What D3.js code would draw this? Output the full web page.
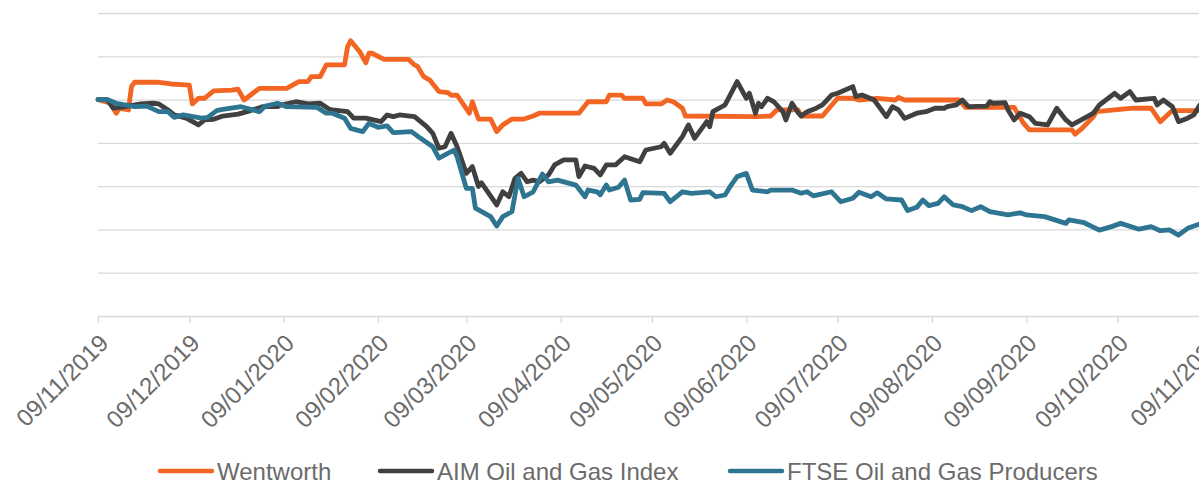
<!DOCTYPE html>
<meta charset="utf-8">
<head>
    <title>Wentworth vs indices</title>
    <script src="https://cdn.jsdelivr.net/npm/d3@7"></script>
</head>

<style>
    body { margin: 0; background: #fff; }
    svg { display: block; font-family: Arial, "Liberation Sans", sans-serif; }
    .grid line { stroke: #d9d9d9; stroke-width: 1.3; }
    .grid .domain { display: none; }
    .xaxis path, .xaxis line { stroke: #d9d9d9; stroke-width: 1.3; }
    .xaxis text { fill: #6b6b6b; font-size: 24px; }
    .legend text { fill: #6b6b6b; font-size: 24px; }
    .series { fill: none; stroke-width: 4.8; stroke-linejoin: round; stroke-linecap: round; }
</style>

<svg></svg>

<script>
    // chart data (index, start = 100)
    var seriesNames = ["Wentworth", "AIM Oil and Gas Index", "FTSE Oil and Gas Producers"];
    var seriesColors = ["#f26522", "#404040", "#2e7592"];

    var tickDates = ["2019-11-09", "2019-12-09", "2020-01-09", "2020-02-09", "2020-03-09", "2020-04-09",
        "2020-05-09", "2020-06-09", "2020-07-09", "2020-08-09", "2020-09-09", "2020-10-09", "2020-11-09"];

    var wentworth = [["2019-11-09",100],["2019-11-13",98.5],["2019-11-15",93.7],["2019-11-16",96],["2019-11-19",95.2],["2019-11-20",106],["2019-11-21",108],["2019-11-29",108],["2019-12-03",107.2],["2019-12-09",106.7],["2019-12-10",98],["2019-12-12",100.6],["2019-12-14",100.6],["2019-12-17",104],["2019-12-23",104.4],["2019-12-25",104.8],["2019-12-27",99.8],["2020-01-01",105.2],["2020-01-10",105.2],["2020-01-14",108.3],["2020-01-17",108.3],["2020-01-18",110.6],["2020-01-21",110.6],["2020-01-23",116],["2020-01-29",116],["2020-01-30",124.4],["2020-01-31",127.2],["2020-02-03",122.1],["2020-02-05",117],["2020-02-06",121.4],["2020-02-07",121.4],["2020-02-11",118.6],["2020-02-19",118.6],["2020-02-21",116],["2020-02-22",115.3],["2020-02-24",110.6],["2020-02-26",109],["2020-02-29",103.7],["2020-03-03",103.2],["2020-03-04",102],["2020-03-06",102],["2020-03-10",93.7],["2020-03-11",99],["2020-03-13",91],["2020-03-17",91],["2020-03-19",85.2],["2020-03-21",88.3],["2020-03-24",91],["2020-03-28",91],["2020-03-31",92.4],["2020-04-02",93.7],["2020-04-15",93.7],["2020-04-18",99],["2020-04-24",99],["2020-04-25",102.1],["2020-04-29",102.1],["2020-04-30",100.6],["2020-05-06",100.6],["2020-05-07",98],["2020-05-12",98],["2020-05-14",99.8],["2020-05-16",99],["2020-05-19",96],["2020-05-20",92.4],["2020-06-12",92.1],["2020-06-17",92.4],["2020-06-19",95.2],["2020-06-26",95.2],["2020-06-27",92.4],["2020-07-04",92.4],["2020-07-09",100.6],["2020-07-14",100.6],["2020-07-16",99.8],["2020-07-22",100.6],["2020-07-28",99.8],["2020-07-29",101],["2020-07-31",99.8],["2020-08-18",99.8],["2020-08-20",96.4],["2020-09-05",96.4],["2020-09-08",89.2],["2020-09-10",86],["2020-09-24",86],["2020-09-25",84],["2020-09-27",86.3],["2020-10-01",92],["2020-10-02",94.4],["2020-10-14",96],["2020-10-20",96],["2020-10-23",89.8],["2020-10-26",93.7],["2020-10-27",94.9],["2020-11-08",94.9]];

    var aimOilGas = [["2019-11-09",100],["2019-11-12",100],["2019-11-14",96],["2019-11-18",96.7],["2019-11-23",98],["2019-11-27",98.3],["2019-11-29",98],["2019-12-02",95.2],["2019-12-04",92.9],["2019-12-08",91.4],["2019-12-12",88.3],["2019-12-14",90.6],["2019-12-17",90.9],["2019-12-20",92.4],["2019-12-25",93.3],["2019-12-28",94.4],["2020-01-02",96.7],["2020-01-07",96.7],["2020-01-08",97.5],["2020-01-13",99],["2020-01-17",98],["2020-01-21",98.3],["2020-01-24",95.5],["2020-01-25",95.2],["2020-01-30",94.4],["2020-02-01",91.4],["2020-02-05",91.4],["2020-02-10",89.8],["2020-02-12",92.9],["2020-02-14",92.1],["2020-02-16",92.9],["2020-02-21",92.1],["2020-02-25",87.5],["2020-02-27",84.4],["2020-02-29",77.5],["2020-03-02",78.2],["2020-03-04",84.4],["2020-03-06",78.2],["2020-03-09",65.9],["2020-03-11",69],["2020-03-13",59.8],["2020-03-14",61.5],["2020-03-19",51.3],["2020-03-21",57.4],["2020-03-23",55.1],["2020-03-25",63.6],["2020-03-27",65.9],["2020-03-29",62],["2020-03-31",62.8],["2020-04-02",62],["2020-04-05",65.2],["2020-04-07",69.8],["2020-04-10",72.1],["2020-04-14",72.1],["2020-04-15",64.4],["2020-04-17",69.3],["2020-04-20",68.2],["2020-04-22",65.2],["2020-04-24",69.8],["2020-04-27",69.8],["2020-04-30",73.6],["2020-05-05",71.3],["2020-05-07",76.7],["2020-05-12",78.2],["2020-05-13",79.8],["2020-05-15",75.2],["2020-05-19",82.9],["2020-05-21",88.3],["2020-05-23",82.1],["2020-05-27",89.8],["2020-05-28",87.5],["2020-05-29",94.4],["2020-06-02",97.5],["2020-06-06",108.3],["2020-06-09",100.6],["2020-06-10",102.9],["2020-06-12",93.7],["2020-06-13",98.3],["2020-06-14",96.7],["2020-06-16",100.6],["2020-06-18",99.1],["2020-06-21",94.4],["2020-06-22",90.6],["2020-06-24",98.3],["2020-06-26",94],["2020-06-27",92.4],["2020-06-29",94.4],["2020-07-02",96],["2020-07-04",97.5],["2020-07-07",102.1],["2020-07-09",102.9],["2020-07-14",106],["2020-07-15",101.4],["2020-07-17",102.1],["2020-07-21",99.8],["2020-07-25",92.1],["2020-07-27",96.7],["2020-07-29",95.2],["2020-07-31",91.3],["2020-08-04",93.7],["2020-08-07",94.4],["2020-08-10",96],["2020-08-13",96],["2020-08-14",96.7],["2020-08-17",97.5],["2020-08-19",99.8],["2020-08-21",96.7],["2020-08-27",97],["2020-08-28",99],["2020-08-29",98.3],["2020-09-02",98.6],["2020-09-03",95.2],["2020-09-05",90.6],["2020-09-07",93.7],["2020-09-10",92.1],["2020-09-12",89],["2020-09-16",88.3],["2020-09-19",96],["2020-09-22",90.6],["2020-09-24",88.3],["2020-09-29",92.1],["2020-10-01",93.7],["2020-10-03",97.5],["2020-10-08",102.9],["2020-10-10",100.6],["2020-10-13",103.7],["2020-10-15",99.8],["2020-10-21",100.6],["2020-10-22",97.5],["2020-10-24",99.8],["2020-10-27",96.7],["2020-10-29",89.8],["2020-11-01",91.4],["2020-11-03",92.9],["2020-11-05",97.5],["2020-11-08",99]];

    var ftseOilGas = [["2019-11-09",100],["2019-11-12",100],["2019-11-15",98.3],["2019-11-21",96.7],["2019-11-25",97],["2019-11-29",94.4],["2019-12-02",94.4],["2019-12-04",91.8],["2019-12-07",92.9],["2019-12-13",91.4],["2019-12-15",91.8],["2019-12-18",94.9],["2019-12-20",95.5],["2019-12-26",96.7],["2020-01-01",94.4],["2020-01-03",97],["2020-01-07",98.3],["2020-01-10",96.7],["2020-01-20",96.4],["2020-01-23",93.7],["2020-01-25",93.7],["2020-01-29",91.4],["2020-01-31",86.7],["2020-02-04",85.2],["2020-02-06",89],["2020-02-09",87.2],["2020-02-12",87.8],["2020-02-14",84.7],["2020-02-20",85.2],["2020-02-23",82.1],["2020-02-27",78.2],["2020-02-29",72.9],["2020-03-05",76.7],["2020-03-06",73.6],["2020-03-09",59],["2020-03-11",59],["2020-03-12",49.8],["2020-03-17",45.9],["2020-03-19",41.6],["2020-03-21",45.9],["2020-03-24",48.2],["2020-03-26",63.6],["2020-03-28",55.1],["2020-03-31",57.4],["2020-04-03",65.6],["2020-04-05",62],["2020-04-08",62.8],["2020-04-14",60.5],["2020-04-17",55.1],["2020-04-18",58.2],["2020-04-21",57.4],["2020-04-22",56],["2020-04-24",60.5],["2020-04-25",58.2],["2020-04-28",59.5],["2020-04-30",62.8],["2020-05-02",53.6],["2020-05-05",53.9],["2020-05-06",57],["2020-05-13",56.7],["2020-05-15",52.8],["2020-05-19",57.4],["2020-05-22",56.7],["2020-05-28",57.4],["2020-05-30",55.1],["2020-06-02",55.9],["2020-06-04",60.5],["2020-06-06",64.4],["2020-06-09",65.9],["2020-06-11",58.2],["2020-06-16",57.4],["2020-06-17",58.2],["2020-06-24",58.2],["2020-06-27",56.7],["2020-06-29",57.4],["2020-07-01",55.5],["2020-07-07",57.4],["2020-07-10",52.8],["2020-07-14",54.4],["2020-07-16",57.2],["2020-07-20",55.1],["2020-07-22",56.9],["2020-07-25",54.1],["2020-07-30",53.6],["2020-08-01",48.7],["2020-08-04",50.2],["2020-08-06",53.6],["2020-08-08",51],["2020-08-11",52],["2020-08-13",55.1],["2020-08-16",51.3],["2020-08-19",50.5],["2020-08-22",48.7],["2020-08-25",50.5],["2020-08-28",48.2],["2020-09-03",46.7],["2020-09-07",47.7],["2020-09-09",46.7],["2020-09-15",45.9],["2020-09-22",42.8],["2020-09-23",44.4],["2020-09-28",43.1],["2020-10-03",39.7],["2020-10-07",41.3],["2020-10-10",42.8],["2020-10-16",40.1],["2020-10-20",41.3],["2020-10-23",39.4],["2020-10-26",39.8],["2020-10-29",37.4],["2020-11-01",40.5],["2020-11-05",42.5],["2020-11-08",44]];

    // sizes
    var vWidth = 1199;
    var vHeight = 482;
    var plotLeft = 98, plotRight = 1212, plotTop = 13, plotBottom = 316;

    var parse = d3.timeParse("%Y-%m-%d");
    var fmt = d3.timeFormat("%d/%m/%Y");

    var svg = d3.select('svg')
        .attr('width', vWidth)
        .attr('height', vHeight);

    var x = d3.scaleTime()
        .domain([parse(tickDates[0]), parse(tickDates[tickDates.length - 1])])
        .range([plotLeft, plotRight]);

    var y = d3.scaleLinear()
        .domain([0, 140])
        .range([plotBottom, plotTop]);

    // horizontal gridlines
    svg.append('g')
        .attr('class', 'grid')
        .attr('transform', 'translate(' + plotLeft + ',0)')
        .call(d3.axisLeft(y).tickValues(d3.range(20, 141, 20)).tickSize(-(plotRight - plotLeft)).tickFormat(''));

    // x axis
    var xAxis = svg.append('g')
        .attr('class', 'xaxis')
        .attr('transform', 'translate(0,' + plotBottom + ')')
        .call(d3.axisBottom(x).tickValues(tickDates.map(parse)).tickSize(7).tickSizeOuter(0).tickFormat(fmt));

    xAxis.selectAll('text')
        .attr('text-anchor', 'end')
        .attr('dx', null).attr('dy', null).attr('y', null)
        .attr('transform', 'translate(-1,16) rotate(-45)')
        .attr('dominant-baseline', 'hanging');

    // lines
    var allSeries = [wentworth, aimOilGas, ftseOilGas];
    var line = d3.line()
        .x(function (d) { return x(parse(d[0])); })
        .y(function (d) { return y(d[1]); });

    svg.append('g').selectAll('path').data(allSeries).enter()
        .append('path')
        .attr('class', 'series')
        .attr('stroke', function (d, i) { return seriesColors[i]; })
        .attr('d', line);

    // legend
    var legendX = [160, 380, 730];
    var legend = svg.append('g').attr('class', 'legend');
    var items = legend.selectAll('g').data(seriesNames).enter()
        .append('g')
        .attr('transform', function (d, i) { return 'translate(' + legendX[i] + ',471)'; });
    items.append('line')
        .attr('x1', 0).attr('x2', 52)
        .attr('stroke', function (d, i) { return seriesColors[i]; })
        .attr('stroke-width', 4.5)
        .attr('stroke-linecap', 'round');
    items.append('text')
        .attr('x', 57)
        .attr('dy', '0.36em')
        .text(function (d) { return d; });
</script>
